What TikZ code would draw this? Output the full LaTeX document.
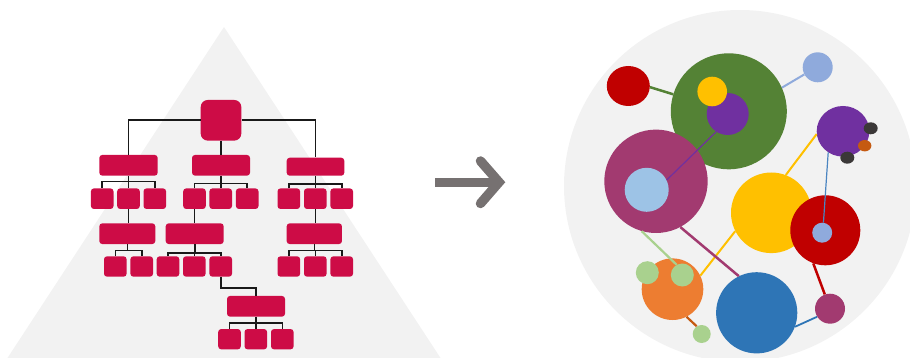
\documentclass[tikz,border=0pt]{standalone}
\usetikzlibrary{shapes.geometric}
\definecolor{bgg}{HTML}{F2F2F2}
\definecolor{crim}{RGB}{205,12,70}
\definecolor{arrg}{HTML}{767171}
\definecolor{cgreen}{HTML}{548235}
\definecolor{cyellow}{HTML}{FFC000}
\definecolor{cpurple}{HTML}{7030A0}
\definecolor{clblue}{HTML}{8FAADC}
\definecolor{clblueb}{HTML}{9DC3E6}
\definecolor{cmaroon}{HTML}{A23A70}
\definecolor{cred}{HTML}{C00000}
\definecolor{corange}{HTML}{ED7D31}
\definecolor{clgreen}{HTML}{A9D18E}
\definecolor{cblue}{HTML}{2E75B6}
\definecolor{cdark}{HTML}{3B3838}
\definecolor{cbrown}{HTML}{C55A11}
\begin{document}
\begin{tikzpicture}[x=1pt,y=-1pt,
  ob/.style={fill=crim, rounded corners=3pt, inner sep=0pt, draw=none},
  wide/.style={ob, minimum width=58pt, minimum height=20.7pt},
  small/.style={ob, minimum width=22.6pt, minimum height=20.6pt},
  tie/.style={draw=black!90, line width=1.6pt},
  blob/.style={circle, inner sep=0pt, draw=none, minimum size=#1},
  oval/.style={ellipse, inner sep=0pt, draw=none},
  link/.style={line width=2.2pt}]
\clip (0,0) rectangle (910,358);
% backgrounds
\fill[bgg] (224,27) -- (468,400) -- (-20,400) -- cycle;
\fill[bgg] (740,186) circle [radius=176];
% ---------------- org chart ----------------
\node[ob, rounded corners=7pt, minimum width=40.6pt, minimum height=40.6pt] (root) at (221,120.3) {};
\node[wide, minimum width=58.4pt] (L1a) at (128.5,165.3) {};
\node[wide] (L1b) at (221,165.3) {};
\node[wide, minimum width=57.6pt, minimum height=18pt] (L1c) at (315.5,166.7) {};
\foreach \n/\x in {a1/102.2,a2/128.5,a3/154.8,b1/194.5,b2/220.7,b3/247.2,c1/288.8,c2/315.3,c3/341.7}
  \node[small] (\n) at (\x,198.7) {};
\node[wide, minimum width=56pt] (L3a) at (127.3,233.7) {};
\node[wide] (L3b) at (194.7,233.7) {};
\node[wide, minimum width=55.3pt] (L3c) at (314.3,233.7) {};
\foreach \n/\x in {d1/115.3,d2/141.7,e1/168,e2/194.3,e3/220.7,f1/288.8,f2/315.3,f3/341.7}
  \node[small, minimum height=20.4pt] (\n) at (\x,266.5) {};
\node[wide] (g) at (256,306.3) {};
\foreach \n/\x in {h1/229.5,h2/255.8,h3/282.3}
  \node[small, minimum height=20.3pt] (\n) at (\x,339.2) {};
% connectors
\draw[tie] (L1a.north) |- (root.west);
\draw[tie] (root.east) -| (L1c.north);
\draw[tie] (root.south) -- (L1b.north);
\coordinate (ya) at (0,181.7);
\coordinate (yb) at (0,183.5);
\coordinate (yc) at (0,184.3);
\draw[tie] (L1a.south) -- (L1a.south |- ya);
\draw[tie] (a1.north) -- (a1.north |- ya) -- (a3.north |- ya) -- (a3.north);
\draw[tie] (a2.north) -- (a2.north |- ya);
\draw[tie] (L1b.south) -- (L1b.south |- yb);
\draw[tie] (b1.north) -- (b1.north |- yb) -- (b3.north |- yb) -- (b3.north);
\draw[tie] (b2.north) -- (b2.north |- yb);
\draw[tie] (L1c.south) -- (L1c.south |- yc);
\draw[tie] (c1.north) -- (c1.north |- yc) -- (c3.north |- yc) -- (c3.north);
\draw[tie] (c2.north) -- (c2.north |- yc);
\draw[tie] (a2.south) -- (a2.south |- L3a.north);
\draw[tie] (b1.south) -- (b1.south |- L3b.north);
\draw[tie] (c2.south) -- (c2.south |- L3c.north);
\coordinate (yd) at (0,250.3);
\coordinate (ye) at (0,253);
\coordinate (yf) at (0,250.3);
\draw[tie] (L3a.south) -- (L3a.south |- yd);
\draw[tie] (d1.north) -- (d1.north |- yd) -- (d2.north |- yd) -- (d2.north);
\draw[tie] (L3b.south) -- (L3b.south |- ye);
\draw[tie] (e1.north) -- (e1.north |- ye) -- (e3.north |- ye) -- (e3.north);
\draw[tie] (e2.north) -- (e2.north |- ye);
\draw[tie] (L3c.south) -- (L3c.south |- yf);
\draw[tie] (f1.north) -- (f1.north |- yf) -- (f3.north |- yf) -- (f3.north);
\draw[tie] (f2.north) -- (f2.north |- yf);
\coordinate (yg) at (0,288);
\draw[tie] (e3.south) -- (e3.south |- yg) -- (g.north |- yg) -- (g.north);
\coordinate (yh) at (0,322.7);
\draw[tie] (g.south) -- (g.south |- yh);
\draw[tie] (h1.north) -- (h1.north |- yh) -- (h3.north |- yh) -- (h3.north);
\draw[tie] (h2.north) -- (h2.north |- yh);
% ---------------- arrow ----------------
\coordinate (sh0) at (435,182.2);
\coordinate (sh1) at (497,182.2);
\coordinate (ar1) at (480.5,161);
\coordinate (tip) at (499,182.2);
\coordinate (ar2) at (480.5,203.5);
\draw[arrg, line width=9pt] (sh0) -- (sh1);
\draw[arrg, line width=9.5pt, line cap=round, line join=miter] (ar1) -- (tip) -- (ar2);
% ---------------- network ----------------
\node[oval, fill=cred, minimum width=43pt, minimum height=40pt] (cRed) at (628.3,86) {};
\node[blob=116pt, fill=cgreen] (cGreen) at (728.8,111.3) {};
\node[blob=42pt, fill=cpurple] (cPurIn) at (727.7,114) {};
\node[blob=29.6pt, fill=cyellow] (cYel) at (712.2,91.5) {};
\node[blob=30pt, fill=clblue] (cLB) at (817.7,67.3) {};
\node[oval, fill=cpurple, minimum width=52.6pt, minimum height=50.6pt] (cPurR) at (843,131.3) {};
\node[oval, fill=cdark, minimum width=14pt, minimum height=12pt] (dk1) at (870.7,128.3) {};
\node[oval, fill=cdark, minimum width=14pt, minimum height=12pt] (dk2) at (847.3,157.7) {};
\node[oval, fill=cbrown, minimum width=13.4pt, minimum height=11.4pt] (orS) at (864.7,145.7) {};
\node[blob=103.4pt, fill=cmaroon] (cMar) at (656,181.3) {};
\node[blob=44pt, fill=clblueb] (cLBin) at (646.7,189.8) {};
\node[blob=80.6pt, fill=cyellow] (cYbig) at (771.3,212.8) {};
\node[blob=70pt, fill=cred] (cRing) at (825.3,230.3) {};
\node[blob=20pt, fill=clblue] (cLBr) at (822.2,232.7) {};
\node[blob=61.6pt, fill=corange] (cOr) at (672.5,289.2) {};
\node[blob=23pt, fill=clgreen] (g1) at (647.3,272.7) {};
\node[blob=23pt, fill=clgreen] (g2) at (682.3,275) {};
\node[blob=81.2pt, fill=cblue] (cBlue) at (756.7,312.8) {};
\node[blob=30pt, fill=cmaroon] (cMarS) at (830,308.7) {};
\node[blob=18pt, fill=clgreen] (gS) at (701.7,334) {};
% links
\draw[link, cgreen, line width=2.5pt] (cRed.-3) -- (cGreen.163);
\draw[link, clblue, line width=2pt] (cGreen.24) -- (cLB.-152);
\draw[link, cpurple, line width=1.2pt] (cLBin.26) -- (cPurIn.-123);
\draw[link, cyellow, line width=2pt] (cYbig.69) -- (cPurR.186);
\draw[link, cblue!70!clblue, line width=1.2pt] (cPurR.-125) -- (cLBr.83);
\draw[link, cyellow, line width=2pt] (cYbig.-153) -- (cOr.26);
\draw[link, clgreen] (cMar.-106) -- (g2.119);
\draw[link, cmaroon, line width=2.5pt] (cMar.-62) -- (cBlue.116);
\draw[link, cred, line width=2.5pt] (cRing.-110) -- (cMarS.110);
\draw[link, cblue, line width=1.8pt] (cBlue.-20) -- (cMarS.-148);
\draw[link, cbrown] (cOr.-63) -- (gS.123);
\end{tikzpicture}
\end{document}
